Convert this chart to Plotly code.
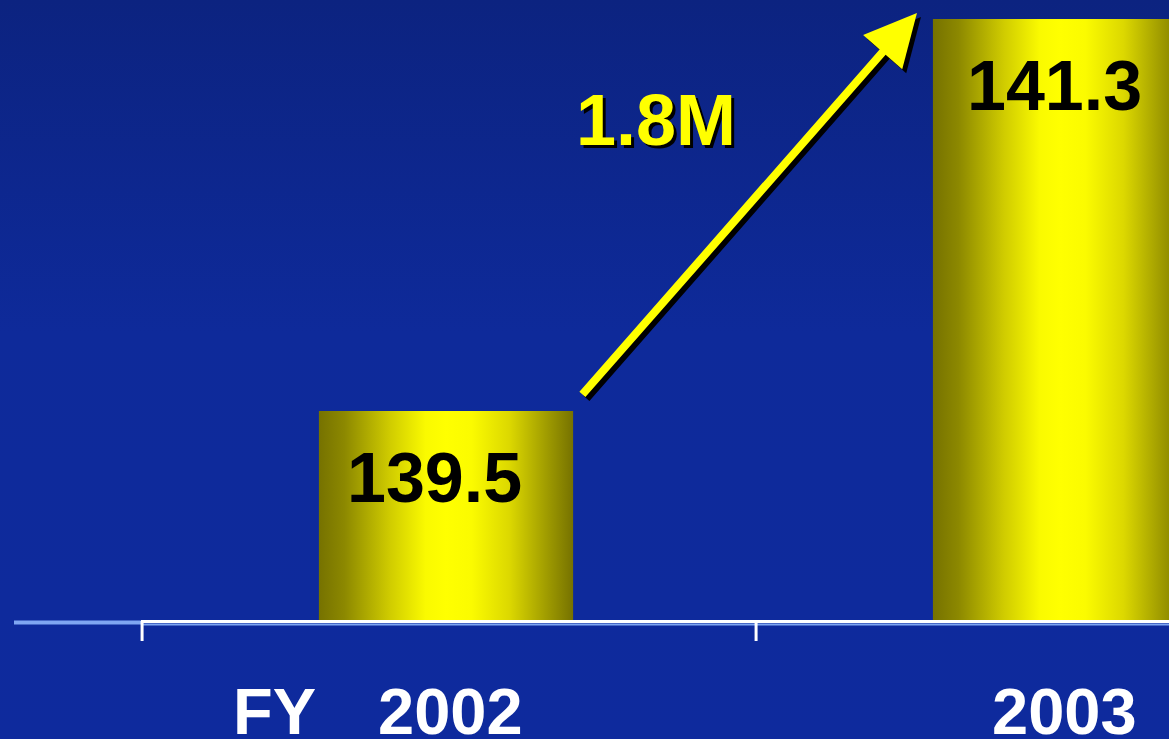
import plotly.graph_objects as go

# ---- data ----
categories = ["2002", "2003"]
values = [139.5, 141.3]
value_labels = ["139.5", "141.3"]
change_label = "1.8M"
axis_prefix = "FY"
axis_base = 138.54

W, H = 1169, 739
x_range = [-0.7264, 1.1775]
y_range = [137.994, 141.387]
bar_half = 0.207

font_family = "Liberation Sans, Arial, sans-serif"

fig = go.Figure()

# background gradient
fig.add_trace(go.Scatter(
    x=[x_range[0], x_range[1], x_range[1], x_range[0], x_range[0]],
    y=[y_range[0], y_range[0], y_range[1], y_range[1], y_range[0]],
    mode="none", fill="toself", hoverinfo="skip", showlegend=False,
    fillgradient=dict(type="vertical",
                      colorscale=[[0, "#0E2A9D"], [0.55, "#0E2A9A"], [1, "#0C2380"]]),
))

bar_scale = [[0, "#767200"], [0.1, "#8c8800"], [0.28, "#d0cc00"], [0.42, "#fafa00"],
             [0.5, "#ffff00"], [0.6, "#fbfb00"], [0.75, "#dcd800"], [0.9, "#9e9a00"],
             [1, "#767200"]]

label_shift = [(-12, -26), (-6, -26)]
for i, v in enumerate(values):
    x0, x1 = i - bar_half, i + bar_half
    fig.add_trace(go.Scatter(
        x=[x0, x1, x1, x0, x0], y=[axis_base, axis_base, v, v, axis_base],
        mode="none", fill="toself", hoverinfo="skip", showlegend=False,
        fillgradient=dict(type="horizontal", colorscale=bar_scale),
    ))
    fig.add_annotation(x=i, y=v, xref="x", yref="y", text=value_labels[i],
                       showarrow=False, xanchor="center", yanchor="top",
                       xshift=label_shift[i][0], yshift=label_shift[i][1],
                       font=dict(family=font_family, size=70, color="black", weight="bold"))
    fig.add_annotation(x=i, y=0, xref="x", yref="paper", text=categories[i],
                       showarrow=False, xanchor="center", yanchor="bottom",
                       xshift=4, yshift=-11,
                       font=dict(family=font_family, size=65, color="white", weight="bold"))

fig.add_annotation(x=0, y=0, xref="x", yref="paper", text=axis_prefix,
                   showarrow=False, xanchor="right", yanchor="bottom",
                   xshift=-128, yshift=-11,
                   font=dict(family=font_family, size=65, color="white", weight="bold"))

# arrow (shadow then yellow)
tip_x, tip_y = 0.767, 141.327
tail_x, tail_y = 0.220, 139.569
for col, dx, dy in [("black", 4, -4), ("#FFFF00", 0, 0)]:
    fig.add_annotation(x=tip_x, y=tip_y, xref="x", yref="y",
                       ax=tail_x, ay=tail_y, axref="x", ayref="y",
                       text="", showarrow=True, arrowhead=2, arrowsize=1.3,
                       arrowwidth=8, arrowcolor=col, standoff=0,
                       xshift=dx, yshift=dy)

# change label with shadow
for col, dx, dy in [("black", 3, -3), ("#FFFF00", 0, 0)]:
    fig.add_annotation(x=0.342, y=140.836, xref="x", yref="y", text=change_label,
                       showarrow=False, xanchor="center", yanchor="middle",
                       xshift=dx, yshift=dy,
                       font=dict(family=font_family, size=72, color=col, weight="bold"))

# axis line
fig.add_shape(type="line", xref="paper", yref="paper", x0=14 / W, x1=141 / W,
              y0=1 - 622.5 / H, y1=1 - 622.5 / H, line=dict(color="#7FA6F2", width=4))
fig.add_shape(type="line", xref="paper", yref="paper", x0=141 / W, x1=1,
              y0=1 - 624.5 / H, y1=1 - 624.5 / H, line=dict(color="#7FA6F2", width=2))
fig.add_shape(type="line", xref="paper", yref="paper", x0=141 / W, x1=1,
              y0=1 - 621.5 / H, y1=1 - 621.5 / H, line=dict(color="white", width=3))
for b in [-0.5, 0.5]:
    fig.add_shape(type="line", xref="x", yref="paper", x0=b + 0.005, x1=b + 0.005,
                  y0=1 - 621 / H, y1=1 - 641 / H, line=dict(color="white", width=3))

fig.update_layout(
    width=W, height=H, margin=dict(l=0, r=0, t=0, b=0),
    paper_bgcolor="#0E2A9A", plot_bgcolor="#0E2A9A", showlegend=False,
    xaxis=dict(range=x_range, visible=False, fixedrange=True),
    yaxis=dict(range=y_range, visible=False, fixedrange=True),
)

fig.write_html("out.html", config={"displayModeBar": False})
